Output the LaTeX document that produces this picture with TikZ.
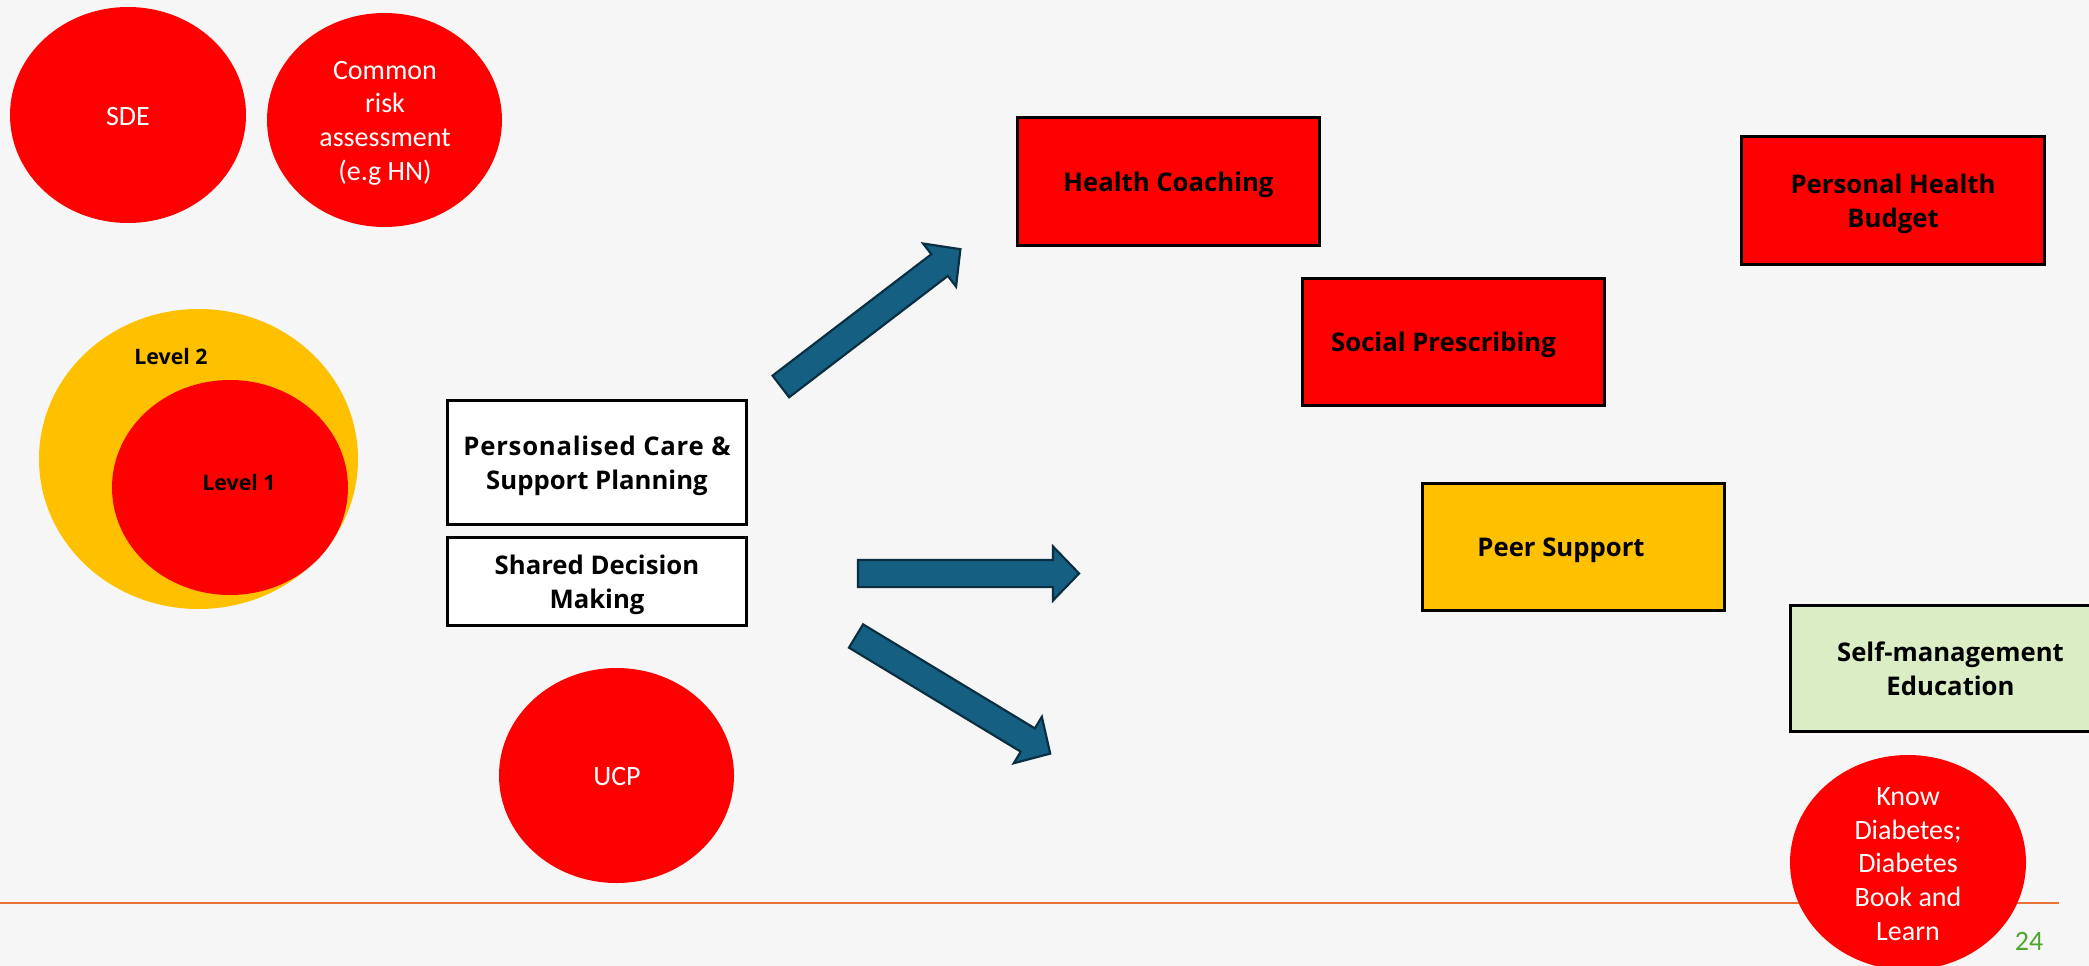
\documentclass[tikz,border=0pt]{standalone}
\usepackage{fontspec}
\setmainfont{Carlito}
\newfontfamily\headfont{Open Sans}
\usetikzlibrary{shapes.geometric,shapes.arrows}

\definecolor{slidebg}{HTML}{F5F6F5}
\definecolor{tealfill}{HTML}{156082}
\definecolor{tealline}{HTML}{0B2F42}
\definecolor{amber}{HTML}{FFC000}
\definecolor{mint}{HTML}{DAEDC4}
\definecolor{rulecol}{HTML}{E97132}
\definecolor{pagegreen}{HTML}{4EA72E}

% a line of box text whose descenders do not count when centring
\newcommand\flatdepth[1]{\raisebox{0pt}[\height][0pt]{#1}}

\begin{document}
\begin{tikzpicture}[x=1pt,y=-1pt,
  blob/.style={ellipse, fill=red, inner sep=0pt, outer sep=0pt},
  blobtext/.style={text=white, align=center, inner sep=0pt,
    font=\fontsize{28}{33.7}\selectfont},
  card/.style={rectangle, draw=black, line width=3.3pt, align=center, inner sep=0pt,
    font=\headfont\bfseries\fontsize{25.7}{34.5}\selectfont},
  levellabel/.style={anchor=base, inner sep=0pt,
    font=\headfont\bfseries\fontsize{21.3}{25}\selectfont},
  blockarrow/.style={single arrow, draw=tealline, fill=tealfill, line width=2.2pt,
    inner xsep=0pt, inner ysep=12.5pt, single arrow head extend=13.5pt,
    single arrow tip angle=92, outer sep=0pt, line join=miter}]

% slide background
\useasboundingbox (0,0) rectangle (2089,966);
\fill[slidebg] (0,0) rectangle (2089,966);
\clip (0,0) rectangle (2089,966);

% footer rule
\coordinate (ruleL) at (0,903);
\coordinate (ruleR) at (2059,903);
\draw[rulecol, line width=1.5pt] (ruleL) -- (ruleR);

% top-left ovals
\node[blob, minimum width=236pt, minimum height=216pt] (sde) at (128,115) {};
\node[blobtext] (sdeT) at (128,117) {SDE};
\node[blob, minimum width=235pt, minimum height=214pt] (cra) at (384.5,120) {};
\node[blobtext] (craT) at (385,123) {Common\\risk\\assessment\\(e.g HN)};

% nested levels
\node[ellipse, fill=amber, inner sep=0pt, minimum width=319pt, minimum height=300pt] (lv2) at (198.5,459) {};
\node[blob, minimum width=236pt, minimum height=215pt] (lv1) at (230,487.5) {};
\node[levellabel] (lv2T) at (171,364.7) {Level 2};
\node[levellabel] (lv1T) at (239,490) {Level 1};

% central boxes
\node[card, fill=white, minimum width=298.7pt, minimum height=123.7pt] (pcsp) at (597,462.5)
  {{\addfontfeature{LetterSpace=3}Personalised Care \&}\\\flatdepth{Support Planning}};
\node[card, fill=white, minimum width=298.7pt, minimum height=87.7pt] (sdm) at (597,581.5)
  {Shared Decision\\\flatdepth{Making}};

% UCP oval
\node[blob, minimum width=235pt, minimum height=215pt] (ucp) at (616.5,775.5) {};
\node[blobtext] (ucpT) at (617,777) {UCP};

% block arrows
\node[blockarrow, minimum height=226pt, rotate=37.4] (arrUp) at (865.4,321.8) {};
\node[blockarrow, minimum height=221pt] (arrMid) at (962,573.5) {};
\node[blockarrow, minimum height=227pt, rotate=-31.2] (arrDown) at (947.5,691.4) {};

% intervention boxes
\node[card, fill=red, minimum width=301.7pt, minimum height=127.7pt] (hc) at (1168.5,181.5)
  {\flatdepth{Health Coaching}};
\node[card, fill=red, minimum width=302.7pt, minimum height=127.7pt] (phb) at (1893,200.5)
  {Personal Health\\\flatdepth{Budget}};
\node[card, fill=red, minimum width=301.7pt, minimum height=126.7pt] (sp) at (1453.5,342)
  {\flatdepth{Social Prescribing}\kern20pt};
\node[card, fill=amber, minimum width=301.7pt, minimum height=126.7pt] (ps) at (1573.5,547)
  {\flatdepth{Peer Support}\kern25pt};
\node[card, fill=mint, minimum width=319.7pt, minimum height=125.7pt] (sme) at (1950.5,668.5)
  {Self-management\\\flatdepth{Education}};

% education oval
\node[blob, minimum width=236pt, minimum height=215pt] (kd) at (1908,862.5) {};
\node[blobtext] (kdT) at (1908,864) {Know\\Diabetes;\\Diabetes\\Book and\\Learn};

% page number
\node[anchor=base, inner sep=0pt, text=pagegreen, font=\fontsize{28}{30}\selectfont] (pg) at (2029,950.7) {24};
\end{tikzpicture}
\end{document}
